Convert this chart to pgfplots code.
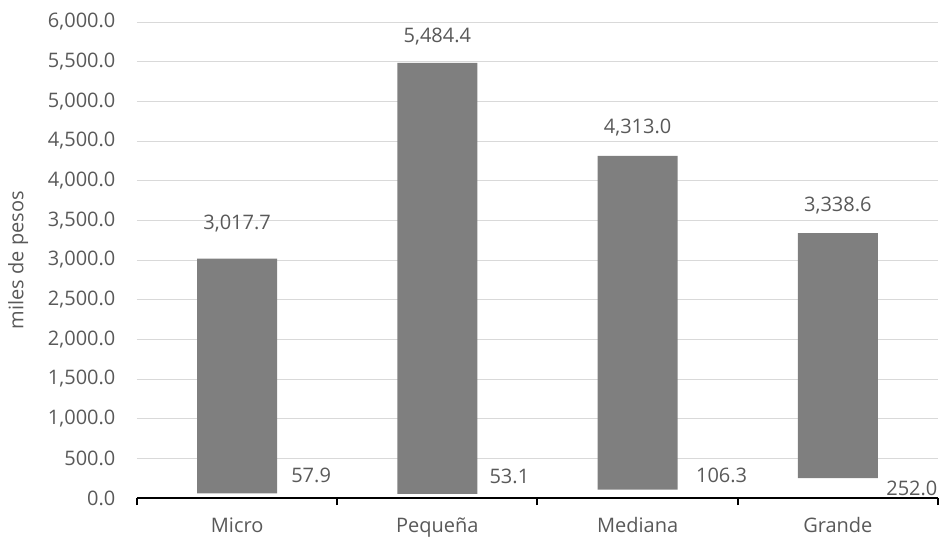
\documentclass[border=0pt]{standalone}
\usepackage{pgfplots}
\pgfplotsset{compat=1.18}
\usepackage{pgfplotstable}
\usepackage{fontspec}
\setmainfont{Open Sans}
\definecolor{txt}{HTML}{595959}
\definecolor{barc}{HTML}{7F7F7F}
\definecolor{gridc}{HTML}{D9D9D9}
\pgfplotstableread{
x low high lowlab highlab ldx ldy hdy
0 57.9 3017.7 57.9 3,017.7 37 9 17.5
1 53.1 5484.4 53.1 5,484.4 36 8.5 13
2 106.3 4313.0 106.3 4,313.0 42 7 14
3 252.0 3338.6 252.0 3,338.6 37 -5 14
}\data
\begin{document}
\begin{tikzpicture}
\begin{axis}[
  name=ax,
  scale only axis,
  width=400.5pt, height=238pt,
  xmin=-0.5, xmax=3.5,
  ymin=0, ymax=6000,
  ybar stacked,
  bar width=40pt,
  xtick={0,1,2,3},
  xticklabels={Micro,Pequeña,Mediana,Grande},
  major x tick style={draw=none},
  minor xtick={-0.5,0.5,1.5,2.5,3.5},
  minor x tick style={draw=black, line width=1pt},
  minor tick length=3.5pt,
  tick align=outside,
  ytick={0,500,...,6000},
  ymajorgrids,
  grid style={gridc, line width=0.5pt},
  major y tick style={draw=none},
  axis x line*=bottom,
  axis y line*=left,
  y axis line style={draw=none},
  x axis line style={black, line width=1pt, -},
  ylabel={miles de pesos},
  ylabel style={font=\fontsize{10}{12}\selectfont, color=txt, yshift=3pt},
  yticklabel style={font=\fontsize{10}{12}\selectfont, color=txt, xshift=-3pt},
  xticklabel style={font=\fontsize{10}{12}\selectfont, color=txt, yshift=-2pt},
  /pgf/number format/.cd, fixed, fixed zerofill, precision=1, 1000 sep={,}, assume math mode=true,
]
\addplot[draw=none, fill=none,
  nodes near coords, point meta=explicit symbolic,
  visualization depends on={\thisrow{ldx} \as \ldx},
  visualization depends on={\thisrow{ldy}+\thisrow{low}/2*238/6000 \as \ldy},
  every node near coord/.style={anchor=center, xshift=\ldx pt, yshift=\ldy pt, text=txt, font=\fontsize{10}{12}\selectfont}
] table[x=x, y=low, meta=lowlab] {\data};
\addplot[draw=none, fill=barc,
  nodes near coords, point meta=explicit symbolic,
  visualization depends on={\thisrow{hdy}+(\thisrow{high}-\thisrow{low})/2*238/6000 \as \hdy},
  every node near coord/.style={anchor=center, yshift=\hdy pt, text=txt, font=\fontsize{10}{12}\selectfont}
] table[x=x, y expr=\thisrow{high}-\thisrow{low}, meta=highlab] {\data};
\end{axis}
\pgfresetboundingbox
\path (ax.south west) ++(-68.5pt,-22pt) rectangle ++(471.5pt,271pt);
\end{tikzpicture}
\end{document}
